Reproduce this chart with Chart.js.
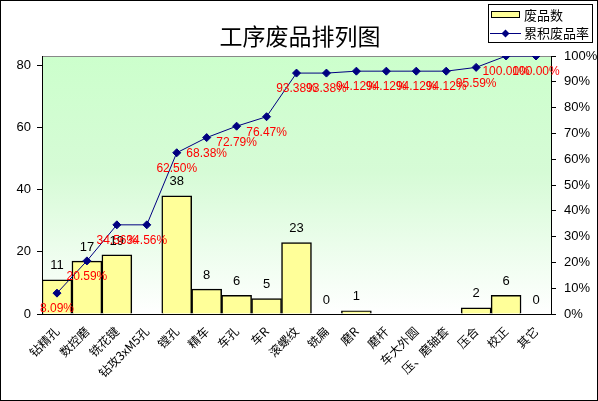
<!DOCTYPE html>
<html>
<head>
<meta charset="utf-8">
<script src="https://cdn.jsdelivr.net/npm/chart.js@4/dist/chart.umd.min.js"></script>
<style>
  html, body { margin: 0; padding: 0; background: #fff; }
  #wrap { width: 598px; height: 401px; }
</style>
</head>
<body>
<div id="wrap"><canvas id="c" width="598" height="401"></canvas></div>
<script>
const categories = ['钻精孔', '数控磨', '铣花键', '钻攻3xM5孔', '镗孔', '精车', '车孔', '车R', '滚螺纹',
    '铣扁', '磨R', '磨杆', '车大外圆', '压、磨轴套', '压合', '校正', '其它'];
const scrapCounts = [11, 17, 19, null, 38, 8, 6, 5, 23, 0, 1, null, null, null, 2, 6, 0];
const cumulativePct = [8.09, 20.59, 34.56, 34.56, 62.50, 68.38, 72.79, 76.47, 93.38,
    93.38, 94.12, 94.12, 94.12, 94.12, 95.59, 100.00, 100.00];
const leftTicks = [0, 20, 40, 60, 80];

const NUM_FONT = "'Liberation Sans', Arial, 'Noto Sans CJK SC', sans-serif";
const CJK_FONT = "'Noto Sans CJK SC', 'Liberation Sans', sans-serif";

// background, outer frame, title and legend
const frame = {
    id: 'frame',
    beforeDraw(chart) {
        const { ctx, chartArea: a, width, height } = chart;
        ctx.save();
        ctx.fillStyle = '#fff';
        ctx.fillRect(0, 0, width, height);
        const g = ctx.createLinearGradient(0, a.top, 0, a.bottom);
        g.addColorStop(0, '#ccffcc');
        g.addColorStop(0.45, '#d6fbd6');
        g.addColorStop(1, '#ffffff');
        ctx.fillStyle = g;
        ctx.fillRect(a.left, a.top, a.right - a.left, a.bottom - a.top);
        ctx.strokeStyle = '#888';
        ctx.lineWidth = 1;
        ctx.beginPath();
        ctx.moveTo(a.left, a.top + 0.5);
        ctx.lineTo(a.right, a.top + 0.5);
        ctx.stroke();
        ctx.restore();
    },
    afterDraw(chart) {
        const { ctx, width, height } = chart;
        ctx.save();
        ctx.strokeStyle = '#000';
        ctx.lineWidth = 1;
        ctx.strokeRect(0.5, 0.5, width - 1, height - 1);

        ctx.fillStyle = '#000';
        ctx.font = '23px ' + CJK_FONT;
        ctx.textAlign = 'center';
        ctx.textBaseline = 'middle';
        ctx.fillText('工序废品排列图', 300, 36);

        // legend
        ctx.fillStyle = '#fff';
        ctx.fillRect(488.5, 4.5, 104, 38);
        ctx.strokeRect(488.5, 4.5, 104, 38);
        ctx.fillStyle = '#ffff99';
        ctx.fillRect(491.5, 11.5, 28, 6);
        ctx.strokeRect(491.5, 11.5, 28, 6);
        ctx.strokeStyle = '#000080';
        ctx.beginPath();
        ctx.moveTo(490, 33.5);
        ctx.lineTo(521, 33.5);
        ctx.stroke();
        ctx.fillStyle = '#000080';
        ctx.beginPath();
        ctx.moveTo(505.5, 29.5);
        ctx.lineTo(509.5, 33.5);
        ctx.lineTo(505.5, 37.5);
        ctx.lineTo(501.5, 33.5);
        ctx.closePath();
        ctx.fill();
        ctx.fillStyle = '#000';
        ctx.font = '13px ' + CJK_FONT;
        ctx.textAlign = 'left';
        ctx.fillText('废品数', 524, 15);
        ctx.fillText('累积废品率', 524, 33);
        ctx.restore();
    }
};

// value labels for bars and line points
const valueLabels = {
    id: 'valueLabels',
    afterDatasetsDraw(chart) {
        const { ctx } = chart;
        ctx.save();
        ctx.textAlign = 'center';
        ctx.textBaseline = 'middle';

        const barMeta = chart.getDatasetMeta(0);
        ctx.fillStyle = '#000';
        ctx.font = '13px ' + NUM_FONT;
        barMeta.data.forEach((bar, i) => {
            const v = scrapCounts[i];
            if (v === null) return;
            ctx.fillText(String(v), bar.x, bar.y - 14);
        });

        const lineMeta = chart.getDatasetMeta(1);
        ctx.fillStyle = '#ff0000';
        ctx.font = '12px ' + NUM_FONT;
        lineMeta.data.forEach((pt, i) => {
            ctx.fillText(cumulativePct[i].toFixed(2) + '%', pt.x, pt.y + 16);
        });
        ctx.restore();
    }
};

new Chart(document.getElementById('c'), {
    data: {
        labels: categories,
        datasets: [{
            type: 'bar',
            label: '废品数',
            data: scrapCounts,
            backgroundColor: '#ffff99',
            borderColor: '#000',
            borderWidth: 1.5,
            barPercentage: 1,
            categoryPercentage: 1,
            yAxisID: 'y',
            order: 2,
        }, {
            type: 'line',
            label: '累积废品率',
            data: cumulativePct,
            borderColor: '#000080',
            borderWidth: 1,
            pointStyle: 'rectRot',
            pointRadius: 4,
            pointBackgroundColor: '#000080',
            pointBorderColor: '#000080',
            yAxisID: 'y1',
            order: 1,
        }],
    },
    options: {
        responsive: false,
        animation: false,
        devicePixelRatio: 1,
        layout: { padding: { top: 56, left: 0, right: 0, bottom: 0 } },
        plugins: {
            legend: { display: false },
            title: { display: false },
            tooltip: { enabled: false },
        },
        scales: {
            x: {
                offset: true,
                grid: { display: false },
                border: { display: true, color: '#000', width: 1 },
                ticks: {
                    color: '#000',
                    font: { family: CJK_FONT, size: 12 },
                    minRotation: 45,
                    maxRotation: 45,
                    autoSkip: false,
                    padding: 2,
                },
                afterFit: (s) => { s.height = 87; },
            },
            y: {
                position: 'left',
                min: 0,
                max: 83,
                afterBuildTicks: (s) => { s.ticks = leftTicks.map(v => ({ value: v })); },
                grid: { drawOnChartArea: false, color: '#000', tickLength: 5 },
                border: { display: true, color: '#000', width: 1 },
                ticks: { color: '#000', font: { family: NUM_FONT, size: 13 }, padding: 6 },
                afterFit: (s) => { s.width = 42; },
            },
            y1: {
                position: 'right',
                min: 0,
                max: 100,
                grid: { drawOnChartArea: false, color: '#000', tickLength: 5 },
                border: { display: true, color: '#000', width: 1 },
                ticks: {
                    stepSize: 10,
                    color: '#000',
                    font: { family: NUM_FONT, size: 13 },
                    padding: 8,
                    callback: (v) => v + '%',
                },
                afterFit: (s) => { s.width = 47; },
            },
        },
    },
    plugins: [frame, valueLabels],
});
</script>
</body>
</html>
